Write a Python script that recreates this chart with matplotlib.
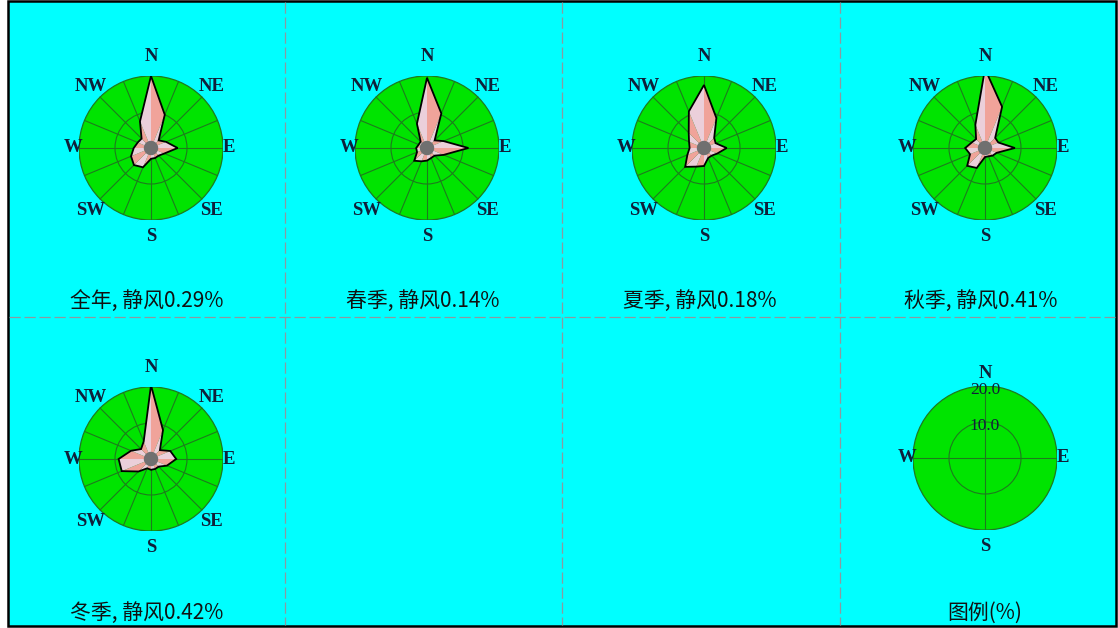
import numpy as np
import matplotlib
matplotlib.use("Agg")
import matplotlib.pyplot as plt
from matplotlib.patches import Circle, Polygon

plt.rcParams['font.family'] = ['Noto Sans CJK SC', 'DejaVu Sans']

# 16方位风向频率 (%)，从N开始顺时针
dirs = ['N', 'NNE', 'NE', 'ENE', 'E', 'ESE', 'SE', 'SSE',
        'S', 'SSW', 'SW', 'WSW', 'W', 'WNW', 'NW', 'NNW']
annual = [20.0, 10.0, 3.0, 4.5, 7.4, 4.0, 3.0, 3.0, 3.0, 5.8, 6.7, 6.0, 4.8, 4.0, 3.7, 8.0]
spring = [19.5, 10.4, 3.0, 5.0, 11.5, 5.0, 3.0, 3.0, 3.5, 4.0, 5.0, 3.0, 3.0, 2.5, 2.5, 7.3]
summer = [17.5, 9.0, 4.0, 3.5, 6.3, 4.0, 3.0, 3.0, 5.0, 5.6, 7.4, 5.0, 4.0, 4.5, 6.0, 11.0]
autumn = [22.0, 12.4, 4.0, 4.0, 8.3, 3.5, 3.0, 2.5, 2.5, 6.0, 7.0, 4.5, 5.5, 4.0, 3.5, 7.0]
winter = [20.5, 8.7, 3.5, 5.8, 7.0, 4.8, 3.0, 3.0, 3.0, 2.8, 4.9, 8.8, 9.0, 6.0, 3.9, 5.3]

season_names = ['全年', '春季', '夏季', '秋季', '冬季']
calm = [0.29, 0.14, 0.18, 0.41, 0.42]
rings = [10.0, 20.0]
rmax = 20.0

W, H = 1118, 628
fig = plt.figure(figsize=(W / 100, H / 100), dpi=100)
fig.patch.set_facecolor('white')

bg = fig.add_axes([0, 0, 1, 1])
bg.set_xlim(0, W)
bg.set_ylim(H, 0)
bg.axis('off')
bg.add_patch(plt.Rectangle((8, 1), 1108, 625, facecolor='#00FFFF',
                           edgecolor='black', lw=1.8, zorder=0))
for x in [285, 562, 840]:
    bg.plot([x, x], [2, 625], color='#8A9AA0', lw=0.9, ls=(0, (9, 3)))
bg.plot([9, 1115], [317, 317], color='#8A9AA0', lw=0.9, ls=(0, (9, 3)))

centers = [(151, 148), (427, 148), (704, 148), (985, 148), (151, 459)]
title_y = [301, 301, 301, 301, 613]
legend_c = (985, 458)
R = 72

compass_font = dict(family='Liberation Serif', fontweight='bold', fontsize=13.5, color='#10203A')

theta = np.arange(16) * np.pi / 8


def make_ax(cx, cy):
    ax = fig.add_axes([(cx - R) / W, (H - cy - R) / H, 2 * R / W, 2 * R / H])
    ax.set_xlim(-rmax, rmax)
    ax.set_ylim(-rmax, rmax)
    ax.axis('off')
    ax.add_patch(Circle((0, 0), rmax, facecolor='#00E400', edgecolor='#1E7A1E',
                        lw=0.9, zorder=1))
    return ax


def draw_rose(ax, vals):
    for r in rings[:-1]:
        ax.add_patch(Circle((0, 0), r, facecolor='none', edgecolor='#1E7A1E', lw=0.8, zorder=2))
    for t in theta:
        ax.plot([0, rmax * np.sin(t)], [0, rmax * np.cos(t)], color='#1E7A1E', lw=0.8, zorder=2)
    v = np.array(vals)
    xs = v * np.sin(theta)
    ys = v * np.cos(theta)
    # 扇区交替着色
    for i in range(16):
        j = (i + 1) % 16
        col = '#F0A39A' if i % 2 == 0 else '#EBCFDA'
        ax.add_patch(Polygon([(0, 0), (xs[i], ys[i]), (xs[j], ys[j])], closed=True,
                             facecolor=col, edgecolor='none', zorder=3))
    ax.add_patch(Polygon(np.column_stack([xs, ys]), closed=True, facecolor='none',
                         edgecolor='black', lw=1.3, zorder=4))
    ax.add_patch(Circle((0, 0), 2.0, facecolor='#707070', edgecolor='none', zorder=5))
    # 方位标注
    labels = {'N': (0, 25.3), 'NE': (16.8, 17.0), 'E': (21.6, 0), 'SE': (16.8, -17.3),
              'S': (0, -24.6), 'SW': (-16.8, -17.3), 'W': (-21.6, 0), 'NW': (-16.8, 17.0)}
    for k, (x, y) in labels.items():
        ax.text(x, y, k, ha='center', va='center', clip_on=False, **compass_font)


for i, (cx, cy) in enumerate(centers):
    ax = make_ax(cx, cy)
    draw_rose(ax, [annual, spring, summer, autumn, winter][i])
    bg.text(cx - 4, title_y[i], '%s, 静风%.2f%%' % (season_names[i], calm[i]),
            ha='center', va='center', fontsize=15, color='#111111')

# 图例
lax = make_ax(*legend_c)
lax.add_patch(Circle((0, 0), rings[0], facecolor='none', edgecolor='#1E7A1E', lw=0.8, zorder=2))
lax.plot([0, 0], [-rmax, rmax], color='#1E7A1E', lw=0.8, zorder=2)
lax.plot([-rmax, rmax], [0, 0], color='#1E7A1E', lw=0.8, zorder=2)
for r in rings:
    lax.text(0, r - 1.2, '%.1f' % r, ha='center', va='center', fontsize=12.5,
             family='Liberation Serif', color='#10203A', zorder=6)
for k, (x, y) in {'N': (0, 23.5), 'E': (21.6, 0), 'S': (0, -24.6), 'W': (-21.6, 0)}.items():
    lax.text(x, y, k, ha='center', va='center', clip_on=False, **compass_font)
bg.text(legend_c[0], 613, '图例(%)', ha='center', va='center', fontsize=15, color='#111111')

fig.savefig('out.png', dpi=100)
